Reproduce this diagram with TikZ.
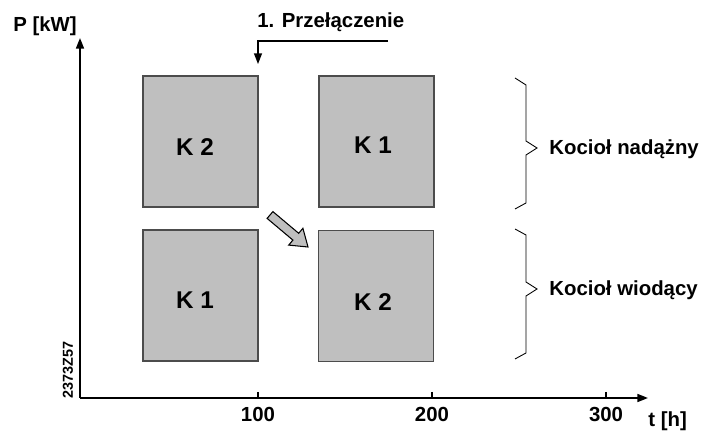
\documentclass[tikz,border=0pt]{standalone}
\usepackage{fontspec}
\setmainfont{Liberation Sans}
\usetikzlibrary{arrows.meta}

\begin{document}
\begin{tikzpicture}[
        x=0.02cm, y=-0.02cm,
        every node/.style={font=\bfseries\fontsize{11.6}{13}\selectfont, inner sep=0pt},
        kbox/.style={draw=black!70, line width=0.6pt, fill=black!25,
            minimum width=2.3cm, minimum height=2.62cm},
        kname/.style={font=\bfseries\fontsize{13.8}{15}\selectfont},
        axis/.style={line width=1pt, -{Triangle[length=6pt,width=4.5pt]}},
        brace/.style={line width=0.5pt}
    ]
        \useasboundingbox (0,0) rectangle (701,432);

        % Osi
        \coordinate (O) at (80,398);
        \coordinate (ytop) at (80,38);
        \coordinate (xend) at (648,398);
        \draw[axis] (O) -- (ytop);
        \draw[axis] (O) -- (xend);
        \node[anchor=base west] (ylab) at (13,32) {P [kW]};
        \node[anchor=base west] (xlab) at (648,427) {t [h]};
        \foreach \x/\t in {258/100, 432/200, 606/300} {
            \coordinate (tk\t) at (\x,392);
            \draw[line width=1pt] (tk\t) -- (\x,398);
            \node[anchor=base] (tl\t) at (\x,422) {\t};
        }
        \node[rotate=90, font=\bfseries\fontsize{8.2}{9}\selectfont] (num) at (68,370) {2373Z57};

        % Kotly
        \node[kbox] (boxTL) at (200.5,141.5) {};
        \node[kbox] (boxTR) at (376.5,141.5) {};
        \node[kbox] (boxBL) at (200.5,295.5) {};
        \node[kbox] (boxBR) at (376,296) {};
        \node[kname] (kTL) at (195,147) {K 2};
        \node[kname] (kTR) at (373,145) {K 1};
        \node[kname] (kBL) at (195,300) {K 1};
        \node[kname] (kBR) at (373,302) {K 2};

        % Przelaczenie
        \node[anchor=base west] (swlab) at (257,28) {1. Przełączenie};
        \coordinate (sw1) at (388,41);
        \coordinate (sw2) at (258,41);
        \coordinate (sw3) at (258,64);
        \draw[line width=0.8pt, -{Triangle[length=6pt,width=4.5pt]}] (sw1) -- (sw2) -- (sw3);

        % Gruba strzalka
        \draw[line width=0.6pt, fill=black!25, line join=miter]
            (267.1,218.4) -- (292.9,240.1) -- (288.7,245.1) -- (308,247)
            -- (302.9,228.3) -- (298.7,233.3) -- (272.9,211.6) -- cycle;

        % Klamry
        \draw[brace] (515,78) -- (526,85) -- (526,141) -- (537,148) -- (526,155)
            -- (526,203) -- (515,209);
        \draw[brace] (515,229) -- (526,235) -- (526,282) -- (537,289) -- (526,296)
            -- (526,353) -- (515,359);
        \node[anchor=base west] (nad) at (549,155) {Kocioł nadążny};
        \node[anchor=base west] (wio) at (549,296) {Kocioł wiodący};
    \end{tikzpicture}
\end{document}
